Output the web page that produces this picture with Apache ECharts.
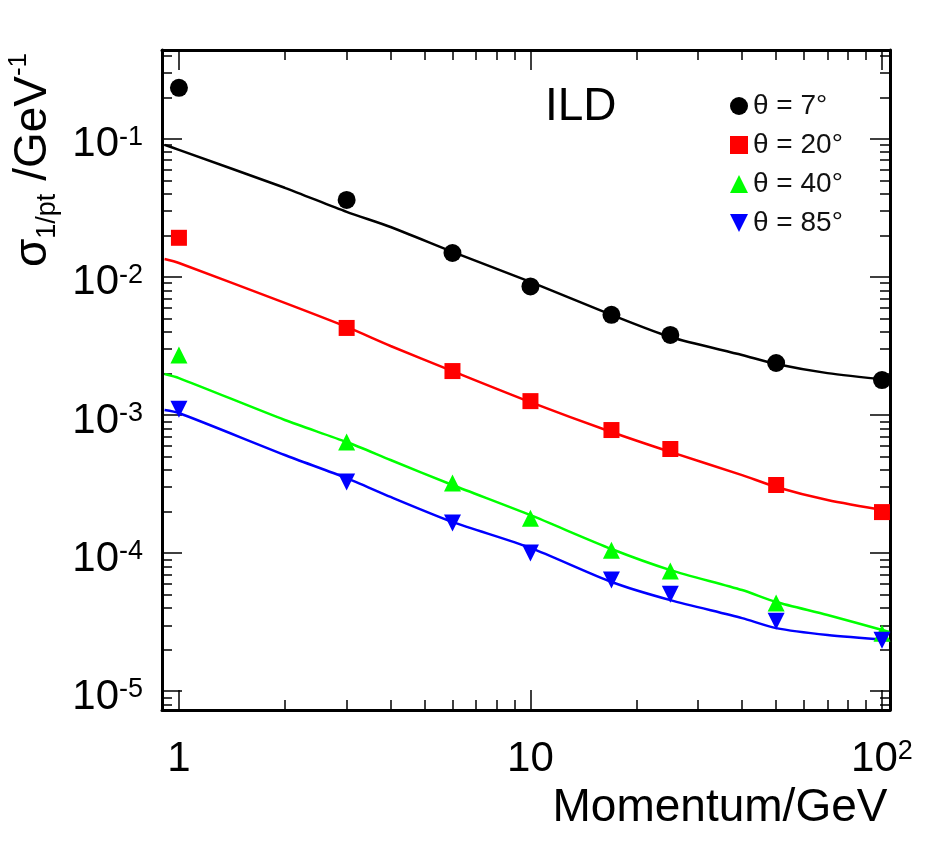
<!DOCTYPE html>
<html>
<head>
<meta charset="utf-8">
<title>sigma 1/pt vs momentum</title>
<script src="https://cdn.jsdelivr.net/npm/echarts@6/dist/echarts.min.js"></script>
<style>
  html, body { margin: 0; padding: 0; background: #fff; }
  #chart { width: 939px; height: 843px; }
</style>
</head>
<body>
<div id="chart"></div>
<script>
// measured points, momentum in GeV
var momenta = [1, 3, 6, 10, 17, 25, 50, 100];
var res7  = [0.234, 0.0361, 0.0149, 0.00853, 0.00531, 0.00380, 0.00238, 0.00179];
var res20 = [0.0192, 0.00427, 0.00208, 0.00126, 0.000778, 0.000567, 0.000311, 0.000198];
var res40 = [0.00272, 0.000637, 0.000321, 0.000179, 0.000105, 0.0000741, 0.0000435, 0.0000263];
var res85 = [0.00110, 0.000327, 0.000165, 0.000100, 0.0000637, 0.0000504, 0.0000321, 0.0000234];

// fitted curves
var fitMomenta = [0.91, 1, 2, 3, 4, 6, 10, 17, 25, 40, 50, 70, 105];
var fit7  = [0.0905, 0.0832, 0.0442, 0.0296, 0.0230, 0.0152, 0.00920, 0.00531, 0.00367, 0.00272, 0.00234, 0.00201, 0.00179];
var fit20 = [0.01349, 0.01262, 0.00648, 0.00434, 0.00316, 0.00208, 0.00124, 0.000753, 0.000540, 0.000367, 0.000301, 0.000242, 0.000201];
var fit40 = [0.00198, 0.00185, 0.000920, 0.000637, 0.000472, 0.000311, 0.000188, 0.000107, 0.0000753, 0.0000540, 0.0000442, 0.0000356, 0.0000268];
var fit85 = [0.001087, 0.001033, 0.000513, 0.000349, 0.000255, 0.000168, 0.000109, 0.0000617, 0.0000456, 0.0000338, 0.0000286, 0.0000255, 0.0000234];

var seriesNames = ['θ = 7°', 'θ = 20°', 'θ = 40°', 'θ = 85°'];

// axis ranges and tick labels (decade exponents)
var xRange = [0.895, 105.4];
var yRange = [7.3e-6, 0.44];
var xMajorExp = [0, 1, 2];
var xMajorLabels = ['{b|1}', '{b|10}', '{b|10}{s|2}'];
var yMajorExp = [-5, -4, -3, -2, -1];
var yMajorLabels = ['{b|10}{s|-5}', '{b|10}{s|-4}', '{b|10}{s|-3}', '{b|10}{s|-2}', '{b|10}{s|-1}'];
var minorSteps = [2, 3, 4, 5, 6, 7, 8, 9];

var FONT = '"Liberation Sans", Arial, Helvetica, sans-serif';
var lg = Math.log10;

function pairs(xs, ys) {
    return xs.map(function (x, i) { return [lg(x), lg(ys[i])]; });
}

function minorTicks(range) {
    var lo = lg(range[0]), hi = lg(range[1]);
    var out = [];
    for (var e = Math.floor(lo); e <= Math.ceil(hi); e++) {
        minorSteps.forEach(function (k) {
            var v = lg(k) + e;
            if (v >= lo && v <= hi) out.push(v);
        });
    }
    return out;
}

var labelRich = {
    b: { fontSize: 42, lineHeight: 54, padding: [12, 0, 0, 0], fontFamily: FONT, color: '#000' },
    s: { fontSize: 27, lineHeight: 26, padding: [12, 0, 0, 0], verticalAlign: 'top', fontFamily: FONT, color: '#000' }
};

function makeAxis(dim, pos, major, range, majorExp, majorLabels) {
    var ticks = major ? majorExp : minorTicks(range);
    var ax = {
        type: 'value',
        position: pos,
        min: lg(range[0]),
        max: lg(range[1]),
        axisLine: { show: major, onZero: false, lineStyle: { color: '#000', width: 3 } },
        axisTick: {
            show: true, inside: true, length: major ? 20 : 10,
            customValues: ticks,
            lineStyle: { color: '#000', width: 1.5 }
        },
        axisLabel: { show: false, customValues: ticks },
        splitLine: { show: false }
    };
    var showLabel = major && (pos === 'bottom' || pos === 'left');
    if (showLabel) {
        ax.axisLabel = {
            show: true,
            customValues: majorExp,
            margin: dim === 'x' ? 16 : 19,
            formatter: function (v) {
                var i = majorExp.indexOf(Math.round(v));
                return i < 0 ? '' : majorLabels[i];
            },
            rich: labelRich
        };
    }
    return ax;
}

var xAxes = [
    makeAxis('x', 'bottom', true, xRange, xMajorExp, xMajorLabels),
    makeAxis('x', 'top', true, xRange, xMajorExp, xMajorLabels),
    makeAxis('x', 'bottom', false, xRange),
    makeAxis('x', 'top', false, xRange)
];
xAxes[0].name = 'Momentum/GeV';
xAxes[0].nameLocation = 'middle';
xAxes[0].nameGap = 74;
xAxes[0].nameTextStyle = {
    fontSize: 46, fontFamily: FONT, color: '#000',
    padding: [0, 0, 0, 388]
};

var yAxes = [
    makeAxis('y', 'left', true, yRange, yMajorExp, yMajorLabels),
    makeAxis('y', 'right', true, yRange, yMajorExp, yMajorLabels),
    makeAxis('y', 'left', false, yRange),
    makeAxis('y', 'right', false, yRange)
];
yAxes[0].name = '{g|σ}{sub|1/pt}{g| /GeV}{sup|-1}';
yAxes[0].nameLocation = 'middle';
yAxes[0].nameRotate = 90;
yAxes[0].nameGap = 99;
yAxes[0].nameTextStyle = {
    padding: [0, 0, 0, 440],
    rich: {
        g: { fontSize: 46, lineHeight: 56, fontFamily: FONT, color: '#000' },
        sub: { fontSize: 27, lineHeight: 28, verticalAlign: 'bottom', fontFamily: FONT, color: '#000' },
        sup: { fontSize: 26, lineHeight: 26, verticalAlign: 'top', fontFamily: FONT, color: '#000' }
    }
};

var downTriangle = 'path://M0,0L10,0L5,10Z';
var colors = ['#000000', '#ff0000', '#00ff00', '#0000ff'];
var symbols = ['circle', 'rect', 'triangle', downTriangle];
var symbolSizes = [18, 16, 17, 17];
var pointSets = [res7, res20, res40, res85];
var fitSets = [fit7, fit20, fit40, fit85];

var series = [];
fitSets.forEach(function (f, i) {
    series.push({
        name: 'fit ' + seriesNames[i],
        type: 'line',
        data: pairs(fitMomenta, f),
        smooth: 0.25,
        showSymbol: false,
        lineStyle: { color: colors[i], width: 2.5 },
        z: 2,
        silent: true
    });
});
pointSets.forEach(function (p, i) {
    series.push({
        name: seriesNames[i],
        type: 'scatter',
        data: pairs(momenta, p),
        symbol: symbols[i],
        symbolSize: symbolSizes[i],
        itemStyle: { color: colors[i], opacity: 1 },
        z: 3
    });
});

var option = {
    backgroundColor: '#fff',
    animation: false,
    grid: { left: 162, top: 50, width: 728, height: 660, containLabel: false, outerBoundsMode: 'none' },
    title: {
        text: 'ILD', left: 545, top: 84, padding: 0,
        textStyle: { fontSize: 46, fontWeight: 'normal', fontFamily: FONT, color: '#000' }
    },
    legend: {
        data: seriesNames.map(function (n, i) { return { name: n, icon: symbols[i] }; }),
        orient: 'vertical',
        left: 730, top: 92, padding: 0,
        itemWidth: 18, itemHeight: 18, itemGap: 11,
        textStyle: { fontSize: 28, lineHeight: 28, fontFamily: FONT, color: '#111' }
    },
    xAxis: xAxes,
    yAxis: yAxes,
    series: series
};

var myChart = echarts.init(document.getElementById('chart'));
myChart.setOption(option);
</script>
</body>
</html>
